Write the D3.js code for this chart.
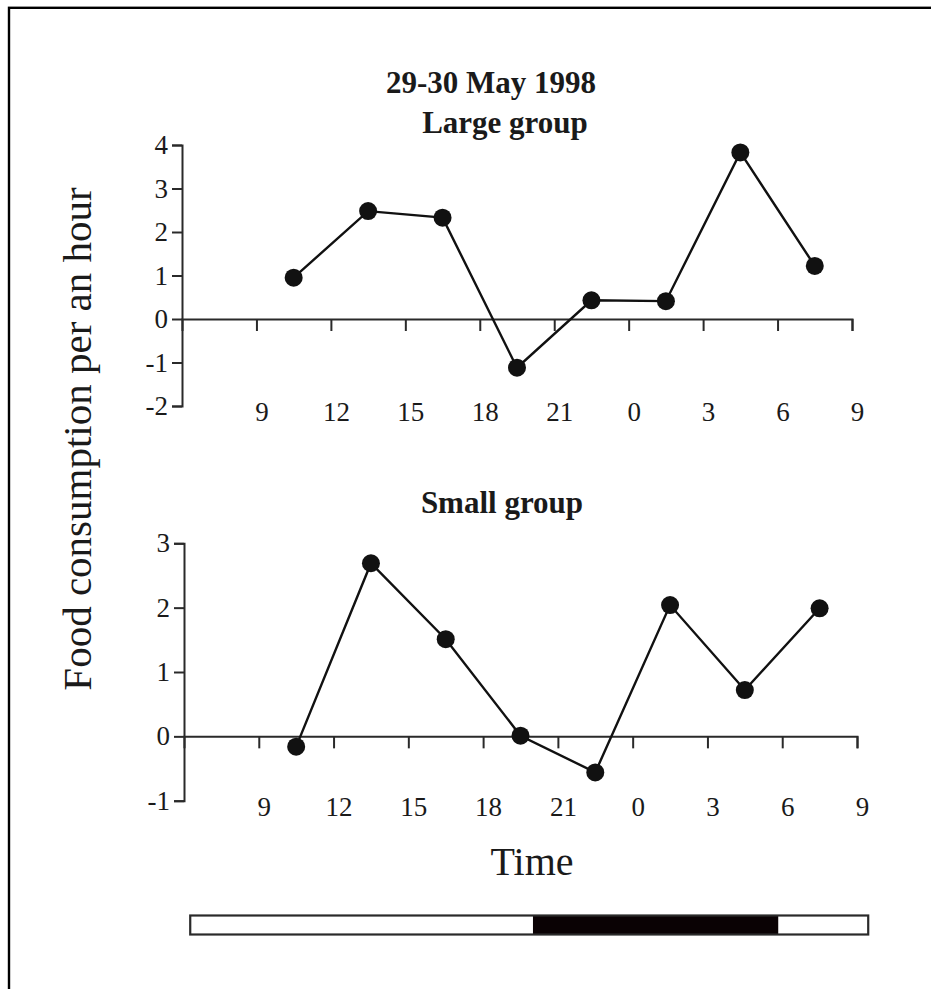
<!DOCTYPE html>
<html>
<head>
<meta charset="utf-8">
<script src="https://cdn.jsdelivr.net/npm/d3@7"></script>
<style>
  html, body { margin: 0; padding: 0; background: #fff; }
  svg { display: block; }
  text { font-family: "Liberation Serif", "Times New Roman", serif; fill: #1a1a1a; }
</style>
</head>
<body>
<svg id="chart" width="931" height="989"></svg>
<script>
// Sampling times (hours from midnight of 29 May; 24+ = next day)
const hours = [10.5, 13.5, 16.5, 19.5, 22.5, 25.5, 28.5, 31.5];
// Food consumption per hour, large group
const largeGroup = [0.95, 2.48, 2.33, -1.12, 0.43, 0.41, 3.83, 1.22];
// Food consumption per hour, small group
const smallGroup = [-0.16, 2.69, 1.51, 0.01, -0.56, 2.04, 0.72, 1.99];

// Time axis ticks and their clock labels
const xTickHours = [9, 12, 15, 18, 21, 24, 27, 30, 33];
const xTickLabels = ["9", "12", "15", "18", "21", "0", "3", "6", "9"];
const timeDomain = [6, 33];

// Value axis ticks
const yTicksLarge = [-2, -1, 0, 1, 2, 3, 4];
const yTicksSmall = [-1, 0, 1, 2, 3];

// Light/dark schedule shown beneath the time axis
const photoperiod = [
  { start: 6.25, end: 20, dark: false },
  { start: 20, end: 29.85, dark: true },
  { start: 29.85, end: 33.45, dark: false }
];

const svg = d3.select("#chart");

// Frame
svg.append("rect")
  .attr("x", 9).attr("y", 7.8)
  .attr("width", 1000).attr("height", 1100)
  .attr("fill", "none").attr("stroke", "#000").attr("stroke-width", 2.4);

function drawPanel(opts) {
  const x = d3.scaleLinear().domain(timeDomain).range(opts.xRange);
  const y = d3.scaleLinear().domain(opts.yDomain).range(opts.yRange);
  const g = svg.append("g");

  // Vertical axis
  const yAxis = g.append("g")
    .attr("transform", `translate(${opts.xRange[0]},0)`)
    .call(d3.axisLeft(y)
      .tickValues(opts.yTicks)
      .tickFormat(d => String(d))
      .tickSize(10)
      .tickSizeOuter(10)
      .tickPadding(4));

  // Zero line with downward hour ticks
  const zeroAxis = g.append("g")
    .attr("transform", `translate(0,${y(0)})`)
    .call(d3.axisBottom(x)
      .tickValues(xTickHours)
      .tickFormat("")
      .tickSize(12)
      .tickSizeOuter(12));

  // Clock labels along the bottom of the panel
  const labelAxis = g.append("g")
    .attr("transform", `translate(0,${y(opts.yDomain[0])})`)
    .call(d3.axisBottom(x)
      .tickValues(xTickHours)
      .tickFormat((d, i) => xTickLabels[i])
      .tickSize(0));
  labelAxis.select(".domain").remove();
  labelAxis.selectAll("text")
    .attr("y", 15).attr("dy", null).attr("dx", 5);

  [yAxis, zeroAxis, labelAxis].forEach(a => {
    a.selectAll("path, line").attr("stroke", "#2a2a2a").attr("stroke-width", 2);
    a.selectAll("text")
      .style("font-family", '"Liberation Serif", "Times New Roman", serif')
      .style("font-size", "27px")
      .attr("fill", "#1a1a1a");
  });

  const pts = hours.map((h, i) => [h, opts.values[i]]);
  g.append("path")
    .datum(pts)
    .attr("fill", "none")
    .attr("stroke", "#111")
    .attr("stroke-width", 2.4)
    .attr("d", d3.line().x(d => x(d[0])).y(d => y(d[1])));

  g.selectAll("circle")
    .data(pts)
    .join("circle")
    .attr("cx", d => x(d[0]))
    .attr("cy", d => y(d[1]))
    .attr("r", 9)
    .attr("fill", "#111");

  g.append("text")
    .attr("x", opts.titleX).attr("y", opts.titleY)
    .attr("text-anchor", "middle")
    .style("font-size", "31px").style("font-weight", "bold")
    .text(opts.title);

  return x;
}

svg.append("text")
  .attr("x", 491).attr("y", 93)
  .attr("text-anchor", "middle")
  .style("font-size", "31px").style("font-weight", "bold")
  .text("29-30 May 1998");

drawPanel({
  xRange: [182, 852], yDomain: [-2, 4], yRange: [406, 145],
  yTicks: yTicksLarge, values: largeGroup,
  title: "Large group", titleX: 505, titleY: 133
});

const xSmall = drawPanel({
  xRange: [184, 857], yDomain: [-1, 3], yRange: [800.7, 543.3],
  yTicks: yTicksSmall, values: smallGroup,
  title: "Small group", titleX: 502, titleY: 512.5
});

// Axis titles
svg.append("text")
  .attr("transform", "translate(91,439) rotate(-90)")
  .attr("text-anchor", "middle")
  .style("font-size", "41px")
  .text("Food consumption per an hour");

svg.append("text")
  .attr("x", 532).attr("y", 875)
  .attr("text-anchor", "middle")
  .style("font-size", "40px")
  .text("Time");

// Light/dark bar
const bar = svg.append("g");
bar.selectAll("rect")
  .data(photoperiod)
  .join("rect")
  .attr("x", d => xSmall(d.start))
  .attr("y", 915.5)
  .attr("width", d => xSmall(d.end) - xSmall(d.start))
  .attr("height", 19)
  .attr("fill", d => d.dark ? "#0a0204" : "#fff");
bar.append("rect")
  .attr("x", xSmall(photoperiod[0].start))
  .attr("y", 915.5)
  .attr("width", xSmall(photoperiod[photoperiod.length - 1].end) - xSmall(photoperiod[0].start))
  .attr("height", 19)
  .attr("fill", "none")
  .attr("stroke", "#2a2a2a")
  .attr("stroke-width", 2.2);
</script>
</body>
</html>
